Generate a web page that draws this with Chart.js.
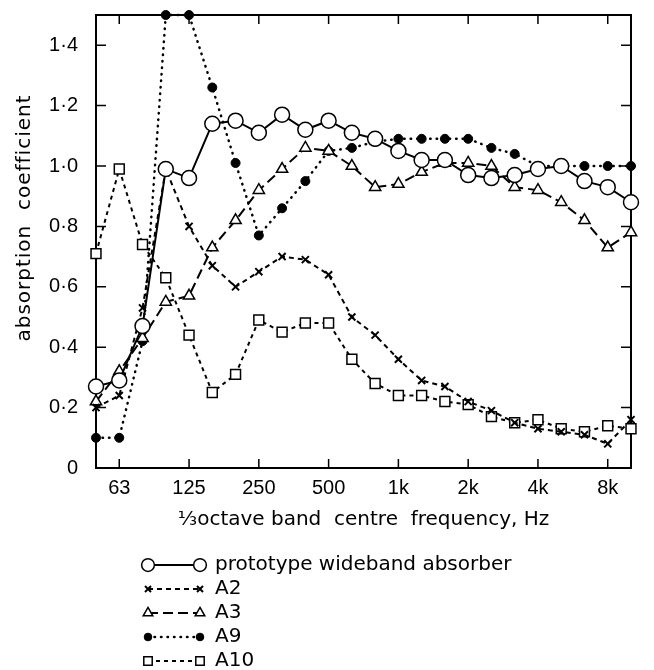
<!DOCTYPE html>
<html>
<head>
<meta charset="utf-8">
<script src="https://cdn.jsdelivr.net/npm/chart.js@4.4.1/dist/chart.umd.min.js"></script>
<style>
  html, body { margin: 0; background: #fff; }
</style>
</head>
<body>
<canvas id="myChart" width="654" height="670"></canvas>
<script>
const bands = ["50", "63", "80", "100", "125", "160", "200", "250", "315", "400", "500", "630",
  "800", "1k", "1.25k", "1.6k", "2k", "2.5k", "3.15k", "4k", "5k", "6.3k", "8k", "10k"];
const shownBands = ["63", "125", "250", "500", "1k", "2k", "4k", "8k"];
const yTicks = [0, 0.2, 0.4, 0.6, 0.8, 1.0, 1.2, 1.4];

const prototype = [0.27, 0.29, 0.47, 0.99, 0.96, 1.14, 1.15, 1.11, 1.17, 1.12, 1.15, 1.11,
  1.09, 1.05, 1.02, 1.02, 0.97, 0.96, 0.97, 0.99, 1.00, 0.95, 0.93, 0.88];
const a2 = [0.20, 0.24, 0.53, 0.99, 0.80, 0.67, 0.60, 0.65, 0.70, 0.69, 0.64, 0.50,
  0.44, 0.36, 0.29, 0.27, 0.22, 0.19, 0.15, 0.13, 0.12, 0.11, 0.08, 0.16];
const a3 = [0.22, 0.32, 0.43, 0.55, 0.57, 0.73, 0.82, 0.92, 0.99, 1.06, 1.05, 1.00,
  0.93, 0.94, 0.98, 1.01, 1.01, 1.00, 0.93, 0.92, 0.88, 0.82, 0.73, 0.78];
const a9 = [0.10, 0.10, 0.42, 1.50, 1.50, 1.26, 1.01, 0.77, 0.86, 0.95, 1.05, 1.06,
  1.08, 1.09, 1.09, 1.09, 1.09, 1.06, 1.04, 1.00, 1.00, 1.00, 1.00, 1.00];
const a10 = [0.71, 0.99, 0.74, 0.63, 0.44, 0.25, 0.31, 0.49, 0.45, 0.48, 0.48, 0.36,
  0.28, 0.24, 0.24, 0.22, 0.21, 0.17, 0.15, 0.16, 0.13, 0.12, 0.14, 0.13];

const FONT = "'DejaVu Sans', 'Liberation Sans', sans-serif";
const NUM_FONT = "'Liberation Sans', Arial, sans-serif";
Chart.defaults.font.family = FONT;
Chart.defaults.color = "#000";

// box round the plot, inward tick marks on all four sides, y title
const framePlugin = {
  id: "frame",
  beforeDatasetsDraw(chart) {
    const { ctx, chartArea: a, scales: { x, y } } = chart;
    ctx.save();
    ctx.strokeStyle = "#000";
    ctx.lineWidth = 2;
    ctx.strokeRect(a.left, a.top, a.right - a.left, a.bottom - a.top);
    ctx.lineWidth = 1.5;
    ctx.beginPath();
    shownBands.forEach((b) => {
      const px = x.getPixelForValue(bands.indexOf(b));
      ctx.moveTo(px, a.bottom); ctx.lineTo(px, a.bottom - 9);
      ctx.moveTo(px, a.top); ctx.lineTo(px, a.top + 9);
    });
    yTicks.slice(1).forEach((v) => {
      const py = y.getPixelForValue(v);
      ctx.moveTo(a.left, py); ctx.lineTo(a.left + 10, py);
      ctx.moveTo(a.right, py); ctx.lineTo(a.right - 10, py);
    });
    ctx.stroke();

    // axis title sits a little above the middle of the plot, as in the original
    ctx.translate(25, 218);
    ctx.rotate(-Math.PI / 2);
    ctx.fillStyle = "#000";
    ctx.font = "20px " + FONT;
    ctx.letterSpacing = "1px";
    ctx.textAlign = "center";
    ctx.textBaseline = "middle";
    ctx.fillText("absorption  coefficient", 0, 0);
    ctx.restore();
  },
};

// legend drawn as a list below the axis title: marker, line, marker, label
const legendRows = [565, 589, 613, 637, 661];
const legendPlugin = {
  id: "keyList",
  afterDraw(chart) {
    const { ctx } = chart;
    ctx.save();
    chart.data.datasets.forEach((ds, i) => {
      const yy = legendRows[i];
      ctx.strokeStyle = "#000";
      ctx.lineWidth = ds.borderWidth;
      ctx.lineCap = ds.borderCapStyle || "butt";
      ctx.setLineDash(ds.borderDash || []);
      ctx.beginPath();
      ctx.moveTo(148, yy);
      ctx.lineTo(200, yy);
      ctx.stroke();
      ctx.setLineDash([]);
      ctx.lineCap = "butt";
      [148, 200].forEach((px) => {
        ctx.fillStyle = ds.pointBackgroundColor;
        ctx.strokeStyle = "#000";
        ctx.lineWidth = ds.pointBorderWidth;
        Chart.helpers.drawPoint(ctx, {
          pointStyle: ds.pointStyle,
          radius: ds.pointRadius * 0.85,
          rotation: 0,
          borderWidth: ds.pointBorderWidth,
        }, px, yy);
      });
      ctx.fillStyle = "#000";
      ctx.font = "20px " + FONT;
      ctx.textBaseline = "middle";
      ctx.fillText(ds.label, 215, yy);
    });
    ctx.restore();
  },
};

const series = (label, data, style) => ({
  label,
  data,
  borderColor: "#000",
  pointBorderColor: "#000",
  tension: 0,
  clip: false,
  ...style,
});

new Chart(document.getElementById("myChart"), {
  type: "line",
  data: {
    labels: bands,
    datasets: [
      series("prototype wideband absorber", prototype, {
        borderWidth: 2, pointStyle: "circle", pointRadius: 7.5,
        pointBackgroundColor: "#fff", pointBorderWidth: 1.5,
      }),
      series("A2", a2, {
        borderWidth: 2, borderDash: [5, 4], pointStyle: "crossRot", pointRadius: 5,
        pointBackgroundColor: "#000", pointBorderWidth: 2,
      }),
      series("A3", a3, {
        borderWidth: 2, borderDash: [10, 5], pointStyle: "triangle", pointRadius: 6.5,
        pointBackgroundColor: "#fff", pointBorderWidth: 1.5,
      }),
      series("A9", a9, {
        borderWidth: 2.5, borderDash: [0.5, 6], borderCapStyle: "round",
        pointStyle: "circle", pointRadius: 4.5,
        pointBackgroundColor: "#000", pointBorderWidth: 1,
      }),
      series("A10", a10, {
        borderWidth: 2, borderDash: [4, 4], pointStyle: "rect", pointRadius: 7,
        pointBackgroundColor: "#fff", pointBorderWidth: 1.5,
      }),
    ],
  },
  options: {
    responsive: false,
    animation: false,
    layout: { padding: { top: 15, right: 23, left: 0, bottom: 137 } },
    plugins: { legend: { display: false }, tooltip: { enabled: false } },
    scales: {
      x: {
        type: "category",
        offset: false,
        grid: { display: false, drawTicks: false },
        border: { display: false },
        ticks: {
          autoSkip: false,
          maxRotation: 0,
          padding: 8,
          font: { family: NUM_FONT, size: 20 },
          callback: (v, i) => (shownBands.includes(bands[i]) ? bands[i] : ""),
        },
        title: {
          display: true,
          text: "⅓octave band  centre  frequency, Hz",
          font: { size: 20 },
          padding: { top: 4, bottom: 1 },
        },
        afterFit: (s) => { s.height = 65; s.paddingLeft = 0; s.paddingRight = 0; },
      },
      y: {
        min: 0,
        max: 1.5,
        grid: { display: false, drawTicks: false },
        border: { display: false },
        afterBuildTicks: (s) => { s.ticks = yTicks.map((v) => ({ value: v })); },
        ticks: {
          padding: 18,
          font: { family: NUM_FONT, size: 20 },
          callback: (v) => (v === 0 ? "0" : v.toFixed(1).replace(".", "·")),
        },
        afterFit: (s) => { s.width = 96; s.paddingTop = 0; s.paddingBottom = 0; },
      },
    },
  },
  plugins: [framePlugin, legendPlugin],
});
</script>
</body>
</html>
